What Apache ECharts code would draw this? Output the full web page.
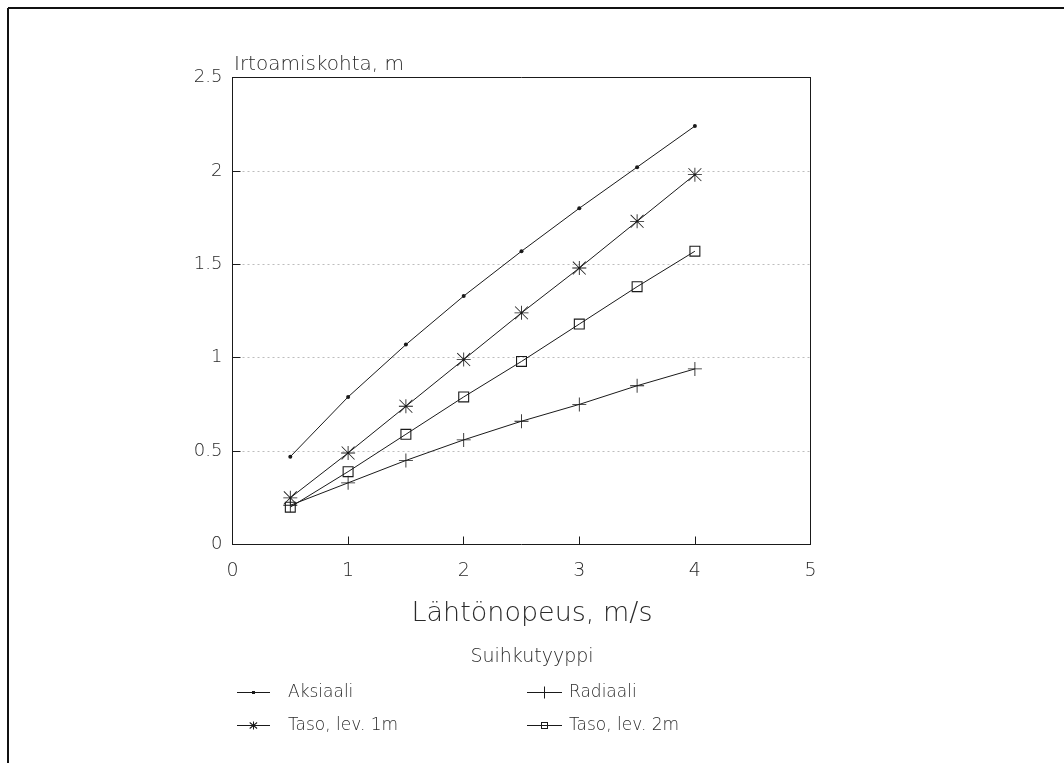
<!DOCTYPE html>
<html>
<head>
<meta charset="utf-8">
<script src="https://cdn.jsdelivr.net/npm/echarts@6/dist/echarts.min.js"></script>
<style>
html,body{margin:0;padding:0;background:#fff;}
#chart{width:1064px;height:763px;}
</style>
</head>
<body>
<div id="chart"></div>
<script>
// Data
const speeds = [0.5, 1, 1.5, 2, 2.5, 3, 3.5, 4];
const aksiaali = [0.47, 0.79, 1.07, 1.33, 1.57, 1.80, 2.02, 2.24];
const taso1m   = [0.25, 0.49, 0.74, 0.99, 1.24, 1.48, 1.73, 1.98];
const taso2m   = [0.20, 0.39, 0.59, 0.79, 0.98, 1.18, 1.38, 1.57];
const radiaali = [0.21, 0.33, 0.45, 0.56, 0.66, 0.75, 0.85, 0.94];
const seriesNames = ['Aksiaali', 'Radiaali', 'Taso, lev. 1m', 'Taso, lev. 2m'];
const yTitle = 'Irtoamiskohta, m';
const xTitle = 'Lähtönopeus, m/s';
const legendTitle = 'Suihkutyyppi';

const FONT = "'DejaVu Sans', 'Liberation Sans', sans-serif";
const FW = 200;
const TXT = '#2a2a2a';
const INK = '#1a1a1a';

// plot symbols
const plusSym = 'path://M9.4,0h1.2v20h-1.2zM0,9.4h20v1.2h-20z';
const starSym = 'path://M9.4,0h1.2v20h-1.2zM0,9.4h20v1.2h-20zM1.2,0.4L19.6,18.8L18.8,19.6L0.4,1.2zM18.8,0.4L19.6,1.2L1.2,19.6L0.4,18.8z';
const boxSym = 'path://M0,0h20v20h-20zM2,2v16h16v-16z';

// legend icons (line + small symbol)
const lgDot  = 'path://M0,5.5h33v1h-33zM15,4.5h3v3h-3z';
const lgStar = 'path://M0,5.5h33v1h-33zM16,2h1v8h-1zM13,2.6L20.4,8.6L19.8,9.4L12.4,3.4zM20.4,3.4L13,9.4L12.4,8.6L19.8,2.6z';
const lgPlus = 'path://M0,5.5h35v1h-35zM17,0h1v12h-1z';
const lgBox  = 'path://M0,5.5h35v1h-35zM14,2.5h7v7h-7zM15,3.5v5h5v-5z';

function pairs(arr){ return speeds.map((x,i)=>[x, arr[i]]); }

function mk(name, data, symbol, size){
  return {
    name: name, type: 'line', data: pairs(data),
    symbol: symbol, symbolSize: size,
    lineStyle: {color: INK, width: 1},
    itemStyle: {color: INK},
    emphasis: {disabled: true},
    animation: false,
    z: 5
  };
}

const lgText = {fontFamily: FONT, fontWeight: FW, fontSize: 17, color: TXT};
const frameAxis = {
  axisLine: {show: true, onZero: false, lineStyle: {color: INK, width: 1}},
  axisTick: {show: false}, axisLabel: {show: false}, splitLine: {show: false}
};

const chart = echarts.init(document.getElementById('chart'));
chart.setOption({
  backgroundColor: '#fff',
  animation: false,
  title: [{
    text: yTitle, left: 229, top: 50,
    textStyle: {fontFamily: FONT, fontSize: 20, fontWeight: FW, color: TXT}
  },{
    text: xTitle, left: 'center', top: 595,
    textStyle: {fontFamily: FONT, fontSize: 27, fontWeight: FW, color: TXT}
  },{
    text: legendTitle, left: 'center', top: 643,
    textStyle: {fontFamily: FONT, fontSize: 19, fontWeight: FW, color: TXT}
  }],
  grid: {left: 232.5, top: 77.5, width: 578, height: 467, show: false, containLabel: false},
  xAxis: [{
    type: 'value', min: 0, max: 5, interval: 1, position: 'bottom',
    axisLine: {onZero: false, lineStyle: {color: INK, width: 1}},
    axisTick: {inside: true, length: 8, lineStyle: {color: INK}},
    axisLabel: {fontFamily: FONT, fontWeight: FW, fontSize: 19, color: TXT, margin: 17},
    splitLine: {show: false}
  }, Object.assign({type: 'value', min: 0, max: 5, interval: 1, position: 'top'}, frameAxis)],
  yAxis: [{
    type: 'value', min: 0, max: 2.5, interval: 0.5, position: 'left',
    axisLine: {show: true, onZero: false, lineStyle: {color: INK, width: 1}},
    axisTick: {show: true, inside: true, length: 8, lineStyle: {color: INK}},
    axisLabel: {fontFamily: FONT, fontWeight: FW, fontSize: 18, color: TXT, margin: 10},
    splitLine: {show: true, lineStyle: {color: '#bdbdbd', type: [2, 3], width: 1}}
  }, Object.assign({type: 'value', min: 0, max: 2.5, interval: 0.5, position: 'right'}, frameAxis)],
  legend: [{
    data: [{name: 'Aksiaali', icon: lgDot}, {name: 'Taso, lev. 1m', icon: lgStar}],
    orient: 'vertical',
    left: 232, top: 679, itemWidth: 33, itemHeight: 12, itemGap: 16,
    textStyle: Object.assign({padding: [0,0,0,13]}, lgText),
    selectedMode: false
  },{
    data: [{name: 'Radiaali', icon: lgPlus}, {name: 'Taso, lev. 2m', icon: lgBox}],
    orient: 'vertical',
    left: 522, top: 679, itemWidth: 35, itemHeight: 12, itemGap: 16,
    textStyle: Object.assign({padding: [0,0,0,2]}, lgText),
    selectedMode: false
  }],
  series: [
    mk(seriesNames[0], aksiaali, 'circle', 4),
    mk(seriesNames[1], radiaali, plusSym, 14),
    mk(seriesNames[2], taso1m, starSym, 14),
    mk(seriesNames[3], taso2m, boxSym, 11)
  ],
  graphic: [{
    type: 'line', shape: {x1: 8, y1: 8, x2: 8, y2: 763},
    style: {stroke: '#111', lineWidth: 2}
  },{
    type: 'line', shape: {x1: 8, y1: 8, x2: 1064, y2: 8},
    style: {stroke: '#111', lineWidth: 2}
  }]
});
</script>
</body>
</html>
